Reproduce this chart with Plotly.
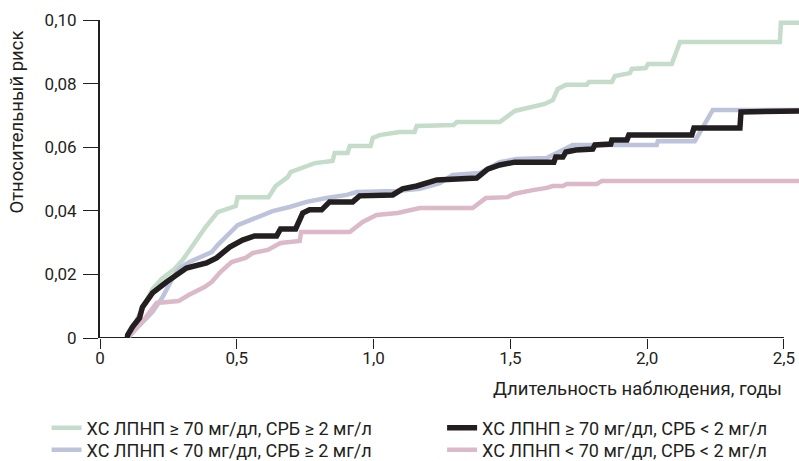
import plotly.graph_objects as go

# ---- data ----
green_x = [0.10, 0.1445, 0.192, 0.225, 0.2725, 0.302, 0.327, 0.349, 0.371, 0.386, 0.430, 0.496, 0.503, 0.616, 0.642, 0.686, 0.697, 0.785, 0.850, 0.858, 0.905, 0.913, 0.989, 0.997, 1.022, 1.095, 1.150, 1.158, 1.293, 1.304, 1.461, 1.516, 1.626, 1.655, 1.673, 1.703, 1.779, 1.787, 1.871, 1.882, 1.937, 1.944, 1.995, 2.003, 2.090, 2.120, 2.485, 2.489, 2.555]
green_y = [0.0, 0.0075, 0.0154, 0.0186, 0.0217, 0.0245, 0.0277, 0.0302, 0.0333, 0.0349, 0.0396, 0.0415, 0.0443, 0.0443, 0.0478, 0.0506, 0.0522, 0.0550, 0.0557, 0.0582, 0.0582, 0.0604, 0.0604, 0.0629, 0.0638, 0.0648, 0.0648, 0.0667, 0.0670, 0.0679, 0.0679, 0.0714, 0.0736, 0.0748, 0.0783, 0.0796, 0.0796, 0.0805, 0.0805, 0.0824, 0.0833, 0.0846, 0.0849, 0.0862, 0.0862, 0.0931, 0.0931, 0.0991, 0.0991]

blue_x = [0.10, 0.108, 0.152, 0.192, 0.229, 0.2615, 0.291, 0.327, 0.408, 0.430, 0.503, 0.558, 0.631, 0.693, 0.755, 0.828, 0.902, 0.938, 1.084, 1.169, 1.242, 1.289, 1.388, 1.461, 1.523, 1.633, 1.681, 1.728, 1.801, 2.035, 2.039, 2.174, 2.240, 2.555]
blue_y = [0.0, 0.0009, 0.0047, 0.0082, 0.0129, 0.0182, 0.0220, 0.0239, 0.0270, 0.0292, 0.0355, 0.0374, 0.0399, 0.0412, 0.0428, 0.0440, 0.0450, 0.0459, 0.0462, 0.0469, 0.0487, 0.0513, 0.0519, 0.0553, 0.0563, 0.0566, 0.0585, 0.0607, 0.0607, 0.0607, 0.0619, 0.0619, 0.0717, 0.0717]

black_x = [0.10, 0.101, 0.119, 0.1445, 0.155, 0.192, 0.243, 0.316, 0.3895, 0.426, 0.474, 0.521, 0.565, 0.6455, 0.660, 0.715, 0.741, 0.766, 0.810, 0.839, 0.9235, 0.949, 1.070, 1.106, 1.158, 1.231, 1.377, 1.417, 1.461, 1.516, 1.659, 1.666, 1.692, 1.703, 1.739, 1.801, 1.809, 1.867, 1.871, 1.926, 1.933, 2.163, 2.171, 2.339, 2.343, 2.555]
black_y = [0.0, 0.0009, 0.0035, 0.0063, 0.0097, 0.0142, 0.0176, 0.0220, 0.0236, 0.0252, 0.0286, 0.0308, 0.0321, 0.0321, 0.0343, 0.0343, 0.0393, 0.0403, 0.0403, 0.0428, 0.0428, 0.0447, 0.0450, 0.0469, 0.0478, 0.0497, 0.0503, 0.0531, 0.0544, 0.0553, 0.0553, 0.0569, 0.0569, 0.0585, 0.0591, 0.0594, 0.0607, 0.0610, 0.0623, 0.0623, 0.0638, 0.0638, 0.0660, 0.0660, 0.0711, 0.0714]

pink_x = [0.10, 0.108, 0.166, 0.207, 0.287, 0.324, 0.382, 0.408, 0.441, 0.481, 0.532, 0.558, 0.613, 0.660, 0.730, 0.735, 0.913, 0.960, 1.011, 1.088, 1.169, 1.362, 1.410, 1.490, 1.512, 1.560, 1.582, 1.633, 1.655, 1.692, 1.706, 1.816, 1.834, 2.555]
pink_y = [0.0, 0.0006, 0.0063, 0.0110, 0.0116, 0.0135, 0.0160, 0.0176, 0.0208, 0.0239, 0.0252, 0.0267, 0.0277, 0.0299, 0.0305, 0.0333, 0.0333, 0.0365, 0.0387, 0.0393, 0.0409, 0.0409, 0.0440, 0.0443, 0.0453, 0.0459, 0.0465, 0.0472, 0.0478, 0.0478, 0.0484, 0.0484, 0.0494, 0.0494]

series_names = [
    "ХС ЛПНП ≥ 70 мг/дл, СРБ ≥ 2 мг/л",
    "ХС ЛПНП < 70 мг/дл, СРБ ≥ 2 мг/л",
    "ХС ЛПНП ≥ 70 мг/дл, СРБ < 2 мг/л",
    "ХС ЛПНП < 70 мг/дл, СРБ < 2 мг/л",
]

x_tickvals = [0, 0.5, 1.0, 1.5, 2.0, 2.5]
x_ticktext = ["0", "0,5", "1,0", "1,5", "2,0", "2,5"]
y_tickvals = [0, 0.02, 0.04, 0.06, 0.08, 0.10]
y_ticktext = ["0", "0,02", "0,04", "0,06", "0,08", "0,10"]

x_title = "Длительность наблюдения, годы"
y_title = "Относительный риск"

# ---- styles ----
FONT = "Roboto, Open Sans, sans-serif"
TXT = "#231f20"
colors = ["#c4dcc9", "#bcc3db", "#231f20", "#dbb9c9"]
widths = [4.5, 4.5, 5.5, 4.5]
legend_ids = ["legend", "legend2", "legend3", "legend4"]
# legend placement (paper coords): column x, row y
legend_pos = [(-0.0764, -0.2248), (-0.0764, -0.2940), (0.4894, -0.2248), (0.4894, -0.2940)]

fig = go.Figure()
draw = [
    (green_x, green_y, 0),
    (blue_x, blue_y, 1),
    (pink_x, pink_y, 3),
    (black_x, black_y, 2),
]
for xs, ys, i in draw:
    fig.add_trace(go.Scatter(
        x=xs, y=ys, mode="lines", name=series_names[i],
        line=dict(color=colors[i], width=widths[i]),
        legend=legend_ids[i], hoverinfo="skip",
    ))

legends = {}
for lid, (lx, ly) in zip(legend_ids, legend_pos):
    legends[lid] = dict(
        orientation="v", xanchor="left", yanchor="top", x=lx, y=ly,
        font=dict(family=FONT, size=18, color=TXT),
        itemwidth=30, bgcolor="rgba(0,0,0,0)",
    )

fig.update_layout(
    width=799, height=461,
    margin=dict(l=100, r=0, t=20, b=123, autoexpand=False),
    paper_bgcolor="white", plot_bgcolor="white",
    font=dict(family=FONT, size=17, color=TXT),
    showlegend=True,
    **legends,
    xaxis=dict(
        range=[0, 2.555], showgrid=False, zeroline=False, showline=False,
        tickvals=x_tickvals, ticktext=x_ticktext, ticks="outside", ticklen=10,
        tickwidth=1, tickcolor=TXT, tickfont=dict(family=FONT, size=17, color=TXT),
        ticklabelstandoff=-5,
        fixedrange=True, automargin=False,
    ),
    yaxis=dict(
        range=[0, 0.1], showgrid=False, zeroline=False, showline=True,
        linecolor=TXT, linewidth=2,
        tickvals=y_tickvals, ticktext=y_ticktext, ticks="outside", ticklen=15,
        tickwidth=1, tickcolor=TXT, tickfont=dict(family=FONT, size=17, color=TXT),
        ticklabelstandoff=3,
        fixedrange=True, automargin=False,
    ),
)

# x-axis baseline from 0 to 2.5 (the curves continue past it)
fig.add_shape(type="line", xref="x", yref="y", x0=x_tickvals[0], x1=x_tickvals[-1],
              y0=0, y1=0, line=dict(color=TXT, width=2), layer="below")

fig.add_annotation(text=x_title, xref="x", yref="paper", x=x_tickvals[-1], y=-0.121,
                   xanchor="right", yanchor="top", showarrow=False,
                   font=dict(family=FONT, size=18.5, color=TXT))
fig.add_annotation(text=y_title, xref="paper", yref="paper", x=-0.119, y=0.68,
                   xanchor="center", yanchor="middle", textangle=-90, showarrow=False,
                   font=dict(family=FONT, size=18.5, color=TXT))

fig.write_html("out.html", config={"displayModeBar": False},
               post_script="document.body.style.margin='0';document.body.style.overflow='hidden';")
